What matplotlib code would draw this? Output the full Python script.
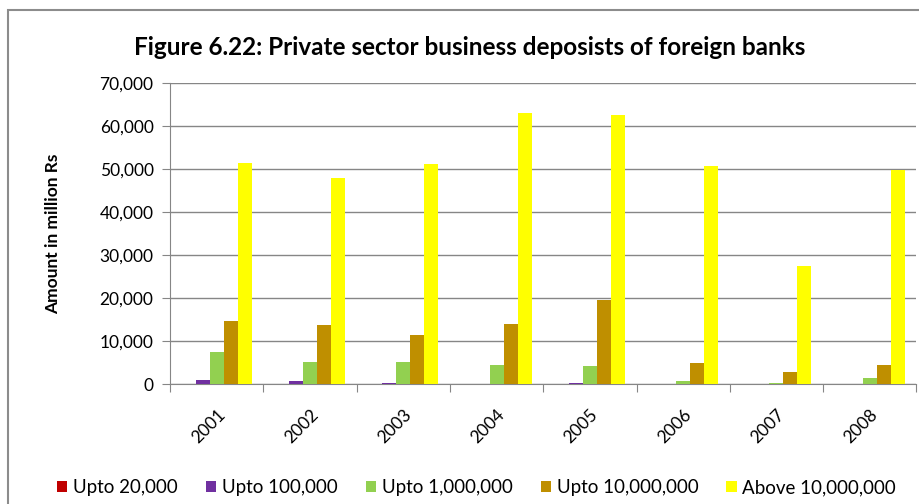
import numpy as np
import matplotlib.pyplot as plt
from matplotlib.patches import Rectangle
from matplotlib.ticker import FuncFormatter, FixedLocator

plt.rcParams['font.family'] = ['Lato', 'DejaVu Sans']

years = ['2001', '2002', '2003', '2004', '2005', '2006', '2007', '2008']
upto_20k = [50, 40, 30, 20, 20, 10, 10, 10]
upto_100k = [1000, 700, 300, 100, 300, 100, 100, 100]
upto_1m = [7500, 5200, 5200, 4500, 4200, 700, 200, 1300]
upto_10m = [14700, 13800, 11300, 14000, 19500, 4900, 2800, 4500]
above_10m = [51500, 48000, 51300, 63000, 62500, 50700, 27500, 49700]

series = [upto_20k, upto_100k, upto_1m, upto_10m, above_10m]
names = ['Upto 20,000', 'Upto 100,000', 'Upto 1,000,000', 'Upto 10,000,000', 'Above 10,000,000']
colors = ['#C00000', '#7030A0', '#92D050', '#BF8F00', '#FFFF00']

fig = plt.figure(figsize=(9.2, 5.04), dpi=100)
ax = fig.add_axes([0.185, 0.238, 0.811, 0.597])

# outer chart frame
fig.patches.append(Rectangle((8/920, -0.1), 1.2, 1 - 10/504 + 0.1,
                             transform=fig.transFigure, fill=False,
                             edgecolor='#8c8c8c', linewidth=1.5))

x = np.arange(len(years))
w = 0.15
for i, (vals, nm, c) in enumerate(zip(series, names, colors)):
    ax.bar(x + (i - 2) * w, vals, w, color=c, label=nm, zorder=3)

ax.set_xlim(-0.5, len(years) - 0.5)
ax.set_ylim(0, 70000)
ax.set_yticks(np.arange(0, 70001, 10000))
ax.yaxis.set_major_formatter(FuncFormatter(lambda v, p: f'{int(v):,}'))
ax.grid(axis='y', color='#868686', linewidth=1, zorder=0)

ax.xaxis.set_major_locator(FixedLocator(np.arange(-0.5, len(years), 1)))
ax.xaxis.set_minor_locator(FixedLocator(x))
ax.set_xticklabels([])
ax.set_xticklabels(years, minor=True, rotation=45, ha='right', rotation_mode='anchor', fontsize=12.5)
ax.tick_params(axis='x', which='major', length=6, color='#868686', direction='out')
ax.tick_params(axis='x', which='minor', length=0, pad=16)
ax.tick_params(axis='y', length=6, color='#868686', labelsize=12.5, pad=6)

for s in ['top', 'right']:
    ax.spines[s].set_visible(False)
for s in ['left', 'bottom']:
    ax.spines[s].set_color('#868686')

ax.set_ylabel('Amount in million Rs', fontsize=12.5, fontweight='bold', labelpad=28)
fig.text(0.51, 0.905, 'Figure 6.22: Private sector business deposists of foreign banks',
         ha='center', va='center', fontsize=17.5, fontweight='bold')

fig.legend(loc='center', bbox_to_anchor=(0.518, 0.032), ncol=5, frameon=False,
           fontsize=13.5, handlelength=0.55, handleheight=0.55, handletextpad=0.3,
           columnspacing=1.5)

fig.savefig('out.png', dpi=100)
